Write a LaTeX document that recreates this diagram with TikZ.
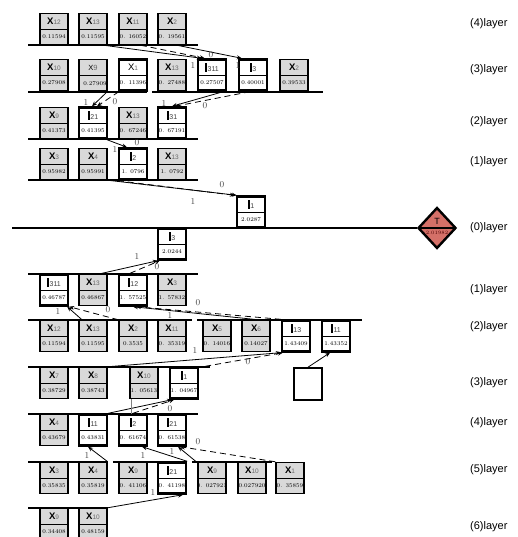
\documentclass[tikz,border=0pt]{standalone}
\usepackage{fontspec}
\setsansfont{Liberation Sans}
\usetikzlibrary{arrows.meta,shapes.geometric}
\definecolor{boxgray}{RGB}{217,217,217}
\definecolor{subgray}{RGB}{105,105,105}
\definecolor{tred}{RGB}{212,112,104}
\newcommand{\xl}[1]{{\bfseries X}{\color{subgray}\fontsize{6.5}{6.5}\selectfont #1}}
\newcommand{\il}[1]{\rule{1.7pt}{8.5pt}\kern0.8pt{\color{subgray!60!black}\fontsize{7}{7}\selectfont #1}}
\tikzset{
	gbox/.style={draw, line width=1.5pt, fill=boxgray, minimum width=28pt, minimum height=31pt, inner sep=0pt,
		path picture={\draw[line width=0.6pt] (path picture bounding box.west) -- (path picture bounding box.east);}},
	wbox/.style={gbox, fill=white, line width=2.4pt},
	toptxt/.style={inner sep=0pt, font=\sffamily\fontsize{9.5}{9.5}\selectfont},
	valtxt/.style={inner sep=0pt, font=\fontsize{5.8}{5.8}\selectfont},
	layline/.style={line width=2.6pt},
	arr/.style={line width=0.8pt, -{Stealth[length=5pt,width=4pt]}},
	darr/.style={arr, dash pattern=on 6pt off 4pt},
	elab/.style={inner sep=0pt, font=\fontsize{9}{9}\selectfont, text=black!75},
	laytxt/.style={anchor=west, inner sep=0pt, font=\sffamily\fontsize{11}{11}\selectfont}
}
\begin{document}
\begin{tikzpicture}[x=1pt, y=-1pt]
	\useasboundingbox (0,0) rectangle (517,537);
	% layer lines
	\foreach \ya/\xa/\xb in {45/28/198, 92/28/147, 92/152/323, 139/28/198, 180/28/198,
		274/28/198, 320/28/192, 320/197/362, 367/28/210, 414/28/198,
		462/28/108, 462/113/187, 462/192/272, 508/28/108}
		\draw[layline] (\xa,\ya) -- (\xb,\ya);
	% target
	\node[diamond, draw, line width=2.4pt, fill=tred, minimum width=38pt, minimum height=41pt, inner sep=0pt,
		path picture={\draw[line width=2pt] (path picture bounding box.west) -- (path picture bounding box.east);}] (tgt) at (437,228) {};
	\draw[layline] (12,228) -- (tgt.west);
	\node[inner sep=0pt, font=\sffamily\fontsize{9}{9}\selectfont] (tgt-t) at ([yshift=7pt]tgt.center) {T};
	\node[inner sep=0pt, font=\fontsize{5}{5}\selectfont, text=red!30!black] (tgt-v) at ([yshift=-5pt]tgt.center) {2.01982};
	% X boxes
	\foreach \nm/\x/\y/\n/\v in {t4a/54/29/12/0.11594, t4b/93/29/13/0.11595, t4c/133/29/11/0. 16052, t4d/172/29/2/0. 19561,
		t3a/54/75/10/0.27908, t3d/172/75/13/0. 27488, t3g/294/75/2/0.39533,
		t2a/54/123/9/0.41373, t2c/133/123/13/0. 67246,
		t1a/54/164/3/0.95982, t1b/93/164/4/0.95991, t1d/172/164/13/1. 0792,
		b1b/93/290/13/0.46867, b1d/172/290/3/1. 57832,
		b2a/54/336/12/0.11594, b2b/93/336/13/0.11595, b2c/133/336/2/0.3535, b2d/172/336/11/0. 35319,
		b2e/217/336/5/0. 14016, b2f/256/336/6/0.14027,
		b3a/54/383/7/0.38729, b3b/93/383/8/0.38743, b3c/144/383/10/1. 05613,
		b4a/54/430/4/0.43679,
		b5a/54/478/3/0.35835, b5b/93/478/4/0.35819, b5c/133/478/9/0. 41106,
		b5e/212/478/9/0. 027921, b5f/252/478/10/0.027920, b5g/290/478/1/0. 35859,
		b6a/54/524/9/0.34408, b6b/93/524/10/0.48159}{
		\node[gbox] (\nm) at (\x,\y) {};
		\node[toptxt] (\nm-t) at ([yshift=7.5pt]\nm.center) {\xl{\n}};
		\node[valtxt] (\nm-v) at ([yshift=-7.5pt]\nm.center) {\v};
	}
	% I boxes
	\foreach \nm/\x/\y/\n/\v in {t3e/212/75/311/0.27507, t3f/253/75/3/0.40001,
		t2b/93/123/21/0.41395, t2d/172/123/31/0. 67191, t1c/133/164/2/1. 0796,
		t0/251/212/1/2.0287, b0/172/244/3/2.0244,
		b1a/54/290/311/0.46787, b1c/133/290/12/1. 57525,
		b2g/296/336/13/1.43409, b2h/336/336/11/1.43352, b3d/184/383/1/1. 04967,
		b4b/93/430/11/0.43831, b4c/133/430/2/0. 61674, b4d/172/430/21/0. 61538,
		b5d/172/478/21/0. 41198}{
		\node[wbox] (\nm) at (\x,\y) {};
		\node[toptxt] (\nm-t) at ([yshift=7.5pt]\nm.center) {\il{\n}};
		\node[valtxt] (\nm-v) at ([yshift=-7.5pt]\nm.center) {\v};
	}
	\node[gbox] (t3b) at (93,75) {};
	\node[toptxt] (t3b-t) at ([yshift=7.5pt]t3b.center) {\fontsize{7.5}{7.5}\selectfont X{\color{subgray}9}};
	\node[valtxt] (t3b-v) at ([xshift=2pt,yshift=-9pt]t3b.center) {0.27909};
	\node[wbox] (t3c) at (133,75) {};
	\node[toptxt] (t3c-t) at ([yshift=7.5pt]t3c.center) {X{\color{subgray}\fontsize{6.5}{6.5}\selectfont 1}};
	\node[valtxt] (t3c-v) at ([yshift=-7.5pt]t3c.center) {0. 11396};
	\node[draw, line width=1.6pt, fill=white, minimum width=28pt, minimum height=32pt] (b3e) at (308,384) {};
	% upper tree
	\draw[arr] ([xshift=-4pt]t4b.south east) -- ([xshift=5pt]t3e.north west);
	\draw[darr] ([xshift=-7pt]t4c.south east) -- ([xshift=8pt]t3e.north west);
	\draw[arr] ([xshift=5pt]t4d.south) -- ([xshift=4pt]t3f.north west);
	\draw[arr] (t3b.south east) -- ([xshift=-1pt]t2b.north);
	\draw[darr] ([xshift=1pt]t3c.south west) -- ([xshift=4pt]t2b.north);
	\draw[arr] ([xshift=-4pt]t3e.south east) -- (t2d.north);
	\draw[darr] ([xshift=-3pt]t3f.south) -- ([xshift=3pt]t2d.north);
	\draw[arr] ([xshift=14pt]t2b.south) -- ([xshift=-6pt]t1c.north);
	\draw[arr] (t1b.south east) -- ([xshift=1pt]t0.north west);
	\draw[darr] (t1c.south west) -- ([xshift=-1pt]t0.north west);
	% lower tree
	\draw[arr] ([xshift=7pt]b1b.north) -- ([xshift=1pt]b0.south west);
	\draw[darr] ([xshift=-3pt]b1c.north) -- ([xshift=3pt]b0.south west);
	\draw[arr] ([xshift=-11pt]b2b.north) -- ([xshift=-2pt]b1a.south east);
	\draw[darr] (b2c.north west) -- (b1a.south east);
	\draw[arr] ([xshift=2pt]b2f.north) -- (b1c.south);
	\draw[darr] (b2g.north west) -- ([xshift=3pt]b1c.south);
	\draw[arr] (b3b.north east) -- (b2g.south west);
	\draw[darr] ([xshift=6pt]b3d.north east) -- ([xshift=2pt]b2g.south west);
	\draw[arr] (b3e.north) -- ([xshift=-6pt]b2h.south);
	\draw[arr] (b4b.north east) -- ([xshift=-12pt]b3d.south);
	\draw[darr] (b4c.north) -- ([xshift=-10pt]b3d.south);
	\draw[gray, thin] ([xshift=2pt]b3c.south west) -- ++(0,15);
	\draw[arr] (b5b.north east) -- ([xshift=-5pt]b4b.south);
	\draw[arr] (b5d.north east) -- ([xshift=9pt]b4c.south);
	\draw[arr] ([xshift=-1pt]b5e.north west) -- ([xshift=6pt]b4d.south);
	\draw[darr] (b5g.north west) -- ([xshift=8pt]b4d.south);
	\draw[arr] (b6b.north east) -- ([xshift=11pt]b5d.south);
	% branch labels
	\foreach \x/\y/\t [count=\i] in {193/66/1, 211/55/0, 238/66/1, 86/103/1, 115/102/0, 164/104/1, 205/106/0,
		115/150/1, 137/143/0, 193/202/1, 222/185/0, 137/257/1, 157/267/0,
		58/312/1, 108/310/0, 170/316/1, 198/303/0, 195/350/1, 248/362/0, 170/409/0,
		87/455/1, 143/455/1, 172/451/1, 198/442/0, 153/492/1}
		\node[elab] (lab\i) at (\x,\y) {\t};
	% layer names
	\foreach \y/\t [count=\i] in {24/(4), 70/(3), 122/(2), 162/(1), 228/(0), 290/(1), 327/(2), 383/(3), 423/(4), 470/(5), 527/(6)}
		\node[laytxt] (lay\i) at (470,\y) {\t layer};
\end{tikzpicture}
\end{document}
